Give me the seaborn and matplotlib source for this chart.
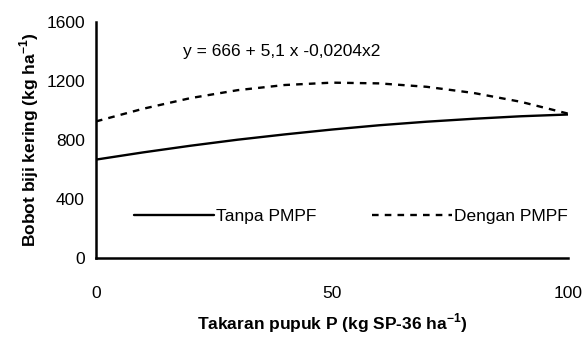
import seaborn as sns
import pandas as pd
import matplotlib.pyplot as plt

# dosage P (kg SP-36/ha) and dry seed weight (kg/ha)
takaran = [0, 10, 20, 30, 40, 50, 60, 70, 80, 90, 100]
tanpa_pmpf = [666, 715, 760, 801, 837, 870, 899, 923, 943, 960, 972]
dengan_pmpf = [925, 1011, 1083, 1137, 1172, 1188, 1183, 1160, 1118, 1058, 978]

d = pd.DataFrame({'Takaran': takaran * 2,
                  'Bobot': tanpa_pmpf + dengan_pmpf,
                  'Perlakuan': ['Tanpa PMPF'] * len(takaran) + ['Dengan PMPF'] * len(takaran)})

sns.set_style('white')
plt.rcParams['font.family'] = ['Liberation Sans', 'DejaVu Sans']
plt.rcParams['text.color'] = 'black'
plt.rcParams['axes.labelcolor'] = 'black'
plt.rcParams['mathtext.fontset'] = 'custom'
plt.rcParams['mathtext.rm'] = 'Liberation Sans'
plt.rcParams['mathtext.bf'] = 'Liberation Sans:bold'

fs = 12.5
fig = plt.figure(figsize=(5.85, 3.37), dpi=100)
ax = fig.add_axes([0.164, 0.235, 0.807, 0.70])
sns.lineplot(data=d, x='Takaran', y='Bobot', hue='Perlakuan', style='Perlakuan',
             palette=['black', 'black'], dashes=[(None, None), (2.8, 2.6)],
             linewidth=1.7, ax=ax)

ax.set_xlim(0, 100)
ax.set_ylim(0, 1600)
ax.set_xticks([0, 50, 100])
ax.set_yticks([0, 400, 800, 1200, 1600])
ax.tick_params(direction='inout', length=10, width=1.5, labelsize=fs, colors='black')
ax.tick_params(axis='x', pad=15)
ax.tick_params(axis='y', pad=3)
for s in ['top', 'right']:
    ax.spines[s].set_visible(False)
for s in ['left', 'bottom']:
    ax.spines[s].set_linewidth(1.8)
    ax.spines[s].set_color('black')

ax.set_xlabel('Takaran pupuk P (kg SP-36 ha$^{\\mathbf{-1}}$)', fontsize=fs, fontweight='bold', labelpad=8)
ax.set_ylabel('Bobot biji kering (kg ha$^{\\mathbf{-1}}$)', fontsize=fs, fontweight='bold', labelpad=4)
ax.text(18.5, 1400, 'y = 666 + 5,1 x -0,0204x2', fontsize=fs, va='center')

ax.legend(loc='center', bbox_to_anchor=(0.54, 0.175), ncol=2, frameon=False,
          handlelength=4.6, handletextpad=0.1, columnspacing=3.2, fontsize=fs)

plt.savefig('out.png', dpi=100)
